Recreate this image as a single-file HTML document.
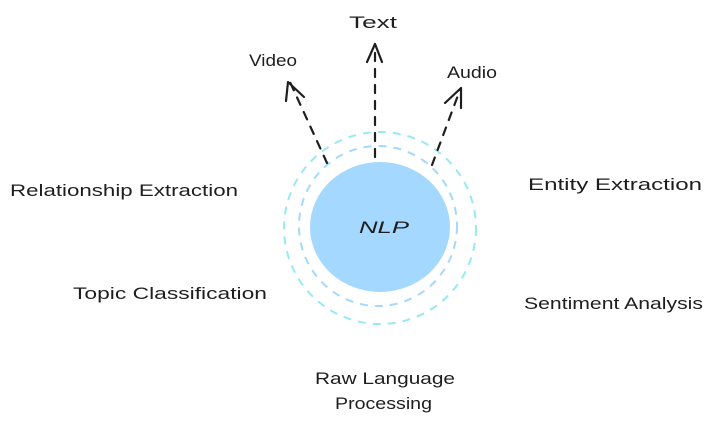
<!DOCTYPE html>
<html><head><style>
body{margin:0;background:#fff}
svg{display:block}
text{font-family:"Liberation Sans",sans-serif;fill:#1e1e1e;font-size:17px}
</style></head><body>
<svg width="723" height="424" viewBox="0 0 723 424">
<ellipse cx="380" cy="228" rx="96" ry="96" fill="none" stroke="#99e9f2" stroke-width="2" stroke-dasharray="8 7"/>
<ellipse cx="378" cy="226" rx="79" ry="80" fill="none" stroke="#a5d8ff" stroke-width="2" stroke-dasharray="8 7"/>
<ellipse cx="380" cy="227" rx="70" ry="65" fill="#a5d8ff"/>
<text x="359" y="233" font-size="20" font-style="italic" textLength="50" lengthAdjust="spacingAndGlyphs">NLP</text>
<g stroke="#1e1e1e" stroke-width="2.2" fill="none" stroke-linecap="round">
<path d="M327 163 L290 82" stroke-dasharray="8 8"/>
<path d="M288 82 L286 101 M288 82 L304 97"/>
<path d="M375 157 L375 46" stroke-dasharray="8 8"/>
<path d="M375 44 L367 62 M375 44 L382 62"/>
<path d="M432 165 L460 90" stroke-dasharray="8 8"/>
<path d="M461 88 L445 103 M461 88 L461 108"/>
</g>
<text x="349" y="28" textLength="48" lengthAdjust="spacingAndGlyphs">Text</text>
<text x="249" y="66" textLength="48" lengthAdjust="spacingAndGlyphs">Video</text>
<text x="447" y="78" textLength="50" lengthAdjust="spacingAndGlyphs">Audio</text>
<text x="10" y="196" textLength="228" lengthAdjust="spacingAndGlyphs">Relationship Extraction</text>
<text x="528" y="190" textLength="174" lengthAdjust="spacingAndGlyphs">Entity Extraction</text>
<text x="73" y="299" textLength="194" lengthAdjust="spacingAndGlyphs">Topic Classification</text>
<text x="524" y="309" textLength="179" lengthAdjust="spacingAndGlyphs">Sentiment Analysis</text>
<text x="315" y="384" textLength="140" lengthAdjust="spacingAndGlyphs">Raw Language</text>
<text x="335" y="409" textLength="97" lengthAdjust="spacingAndGlyphs">Processing</text>
</svg>
</body></html>
